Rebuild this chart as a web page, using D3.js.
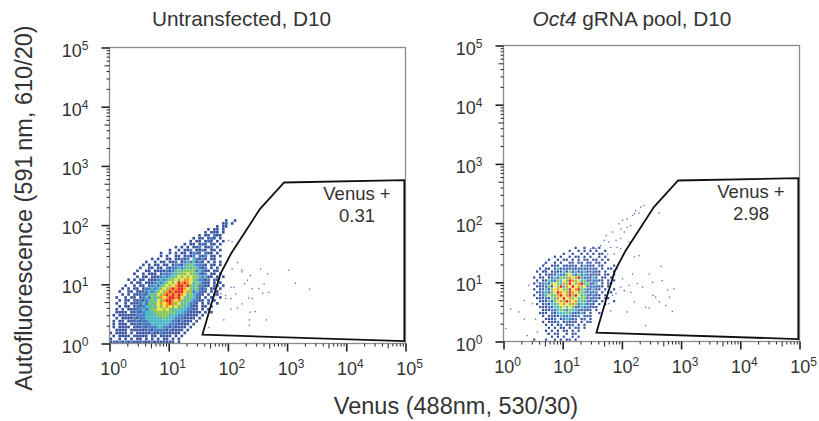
<!DOCTYPE html>
<html>
<head>
<meta charset="utf-8">
<script src="https://cdn.jsdelivr.net/npm/d3@7"></script>
<style>
    body { margin: 0; background: #fff; }
    svg { display: block; font-family: "Liberation Sans", Arial, sans-serif; }
</style>
</head>
<body>
<svg id="grafico" width="819" height="421"></svg>
<script>
// decades on both log axes
const decades = [0, 1, 2, 3, 4, 5];
const minorSteps = [2, 3, 4, 5, 6, 7, 8, 9];

// gate corners, log10 units (both panels share it)
const gateX = [1.57, 1.75, 1.88, 2.06, 2.54, 2.95, 4.98, 4.98];
const gateY = [0.15, 0.77, 1.19, 1.53, 2.27, 2.72, 2.76, 0.04];

// density, one string per 0.05 decade row, top row first
// 0 empty, 1 dark blue ... 7 red
const densityLeft = [
    "0000000000000000000000000000000000000001001",
    "000000000000000000000000000000000000001101",
    "0000000000000000000000000000000000001011",
    "0000000000000000000000000000000001011010",
    "0000000000000000000000000000000010111010",
    "0000000000000000000000000000001011021100",
    "0000000000000000000000000000101101210100",
    "0000000000000000000000000001011012101010",
    "0000000000000000000000000101101210110100",
    "0000000000000000000000101010112011201000",
    "0000000000000000000010010112011210110100",
    "0000000000000000010010101101221021101000",
    "0000000000000000010100110121202120110100",
    "0000000000000010100110112120321210110000",
    "0000000000001001011011201232312101010100",
    "0000000000010101101101221334322210110100",
    "0000000000100110110212232343432120101000",
    "0000000001001101111212343444423211011000",
    "0000000010010111012223344454432120110100",
    "0000000001011011123233454545443231101010",
    "0000001010110111232344545665432212011000",
    "0000000101101112323454576765343211010100",
    "0000010010110123234545677674342211011010",
    "0000101011012232345467677654342120110100",
    "0001001101112323454676777564232110101000",
    "0000101011121343546767676534321101011000",
    "0010010110123243465677675434321010100100",
    "0001011011212343546776564343221101010000",
    "0010010111232434565676453432210101001000",
    "0001011012123343545654544332110110100000",
    "0010101112232344554543433322110101000000",
    "0011110112123334444444333221111010100000",
    "0101111112223333444433322211110100000000",
    "0010111121223333334333222111101000000000",
    "0101101112122333333332212111010000000000",
    "0101110112122233333322211110100000000000",
    "0101111011121222332212111101000000000000",
    "0011110111111212222121111010000000000000",
    "1011110101111121121111110100000000000000",
    "0101111011111011011110101000000000000000",
    "1001010101101010101101010000000000000000",
    "1212121211121121111111010000000000000000"
];

const densityRight = [
    "0000000000000000000000001001001010000000",
    "0000000000000000000000100101010100100000",
    "0000000000000000000010010010101011000000",
    "0000000000000000010100101101010010100000",
    "0000000000000001001011010101101101010000",
    "0000000000000010010100110120110110100000",
    "0000000000000100111021212013111011000100",
    "0000000000001011013122121212112101011000",
    "0000000000010110121131423123112110100100",
    "0000000000001012113224532423121110110100",
    "0000000000101101232434654732213101101000",
    "0000000000010113224354764534212211010100",
    "0000000000101231454364754673421301011000",
    "0000000000011124154736575645122211010000",
    "0000000000101131456544756743213110100100",
    "0000000000011232457654765443121201011000",
    "0000000000101235346756747534212110100000",
    "0000000000011121436575645344121110110000",
    "0000000000001113245647656343212101000100",
    "0000000000010121334565464233121010100000",
    "0000000000001112133453542132211100000000",
    "0000000000000111223432433212110100000000",
    "0000000000001110213334321131010010000000",
    "0000000000000101211322311201110000000000",
    "0000000000000011120123212012010000000000",
    "0000000000000101112012111010110000000000",
    "0000000000000010101201120101000000000000",
    "0000000000000001010110101101000000000000",
    "0000000000000010101011010100000000000000",
    "0000000000000001011001011000000000000000",
    "0000000000000000101010010100000000000000",
    "0000000000100010010101101000000000000000"
];

// single events outside the dense cloud, log10 units
const sueltosLeftX = [2.07, 1.95, 2.0, 2.06, 2.15, 2.06, 2.22, 2.54, 3.02, 2.23, 2.66, 2.37, 2.32, 2.27, 2.6, 3.13, 2.4, 2.51, 3.37, 2.09, 2.04, 1.87, 1.95, 2.12, 2.68, 2.58, 2.34, 2.4, 1.95, 2.04, 2.23, 2.15, 2.04, 2.36, 2.45, 1.92, 2.35, 2.64, 2.35, 1.67, 2.33, 1.9];
const sueltosLeftY = [2.06, 2.03, 1.75, 1.73, 1.38, 1.27, 1.25, 1.27, 1.25, 1.22, 1.19, 1.16, 1.08, 1.02, 1.02, 1.03, 0.94, 0.94, 0.93, 0.96, 0.96, 0.85, 0.82, 0.85, 0.875, 0.86, 0.78, 0.77, 0.77, 0.77, 0.68, 0.61, 0.59, 0.54, 0.55, 0.41, 0.41, 0.41, 0.32, 0.28, 0.01, 0.01];

const sueltosRightX = [2.36, 2.31, 2.22, 2.28, 2.2, 2.62, 2.17, 2.08, 2.0, 1.94, 1.97, 2.08, 2.14, 2.03, 1.83, 1.72, 1.69, 1.77, 1.89, 1.97, 1.8, 1.91, 2.11, 1.97, 1.86, 1.75, 1.55, 1.46, 1.35, 1.63,
    2.28, 2.2, 1.91, 1.86, 2.65, 2.45, 2.17, 2.0, 2.34, 2.87, 2.76, 2.67, 2.51, 2.25, 2.11, 1.97, 2.03, 1.89, 1.83, 2.14, 2.51, 2.56, 2.79, 2.2, 2.39, 2.45, 2.62, 2.73, 2.84, 1.77, 1.8, 2.08, 2.39,
    0.03, 0.11, 0.34, 0.39, 0.25, 0.34, 0.42, 0.56, 0.68, 0.68, 0.73, 0.48, 0.56, 0.73, 0.53, 0.56];
const sueltosRightY = [2.31, 2.28, 2.22, 2.18, 2.17, 2.18, 2.14, 2.08, 2.06, 2.0, 1.91, 1.94, 1.97, 1.86, 1.86, 1.8, 1.72, 1.69, 1.72, 1.75, 1.6, 1.6, 1.69, 1.58, 1.49, 1.49, 1.58, 1.58, 1.6, 1.63,
    1.46, 1.44, 1.24, 1.21, 1.28, 1.15, 1.15, 1.07, 0.93, 0.9, 0.88, 1.04, 1.01, 0.99, 0.96, 0.93, 0.87, 0.82, 0.79, 0.84, 0.79, 0.76, 0.76, 0.68, 0.59, 0.58, 0.68, 0.62, 0.52, 0.65, 0.53, 0.51, 0.28,
    0.23, 0.56, 0.39, 0.11, 0.51, 0.7, 0.96, 1.01, 1.32, 1.21, 1.24, 0.65, 0.17, 0.14, 0.39, 0.65];

const colores = ["#ffffff", "#35519f", "#4a7cc2", "#4db8c6", "#86c654", "#efe447", "#f4941f", "#e62a20"];

const svg = d3.select("#grafico");

const defs = svg.append("defs");
defs.append("filter").attr("id", "suave")
    .attr("x", 0).attr("y", 0).attr("width", 1).attr("height", 1)
    .append("feGaussianBlur").attr("stdDeviation", 0.4);

const texto = "#333333";
const pasoCelda = 0.05;

function dibujarPanel(p) {

    const x = d3.scaleLog().domain([1, 1e5]).range([p.left, p.left + 296]);
    const y = d3.scaleLog().domain([1, 1e5]).range([p.bottom, p.bottom - 296]);
    const pot = e => Math.pow(10, e);

    const g = svg.append("g");

    // density cells
    const celdas = [];
    p.density.forEach((fila, i) => {
        const r = p.density.length - 1 - i;
        fila.split("").forEach((ch, c) => {
            if (ch !== "0") celdas.push({ c: c, r: r, nivel: +ch });
        });
    });

    // the sparsest level is single events, so it gets a smaller dot
    const hueco = d => p.hueco + (d.nivel === 1 ? 0.35 : 0);

    const nube = g.append("g").attr("filter", "url(#suave)");

    nube.selectAll("rect")
        .data(celdas)
        .enter()
        .append("rect")
        .attr("x", d => x(pot(d.c * pasoCelda)))
        .attr("y", d => y(pot((d.r + 1) * pasoCelda)))
        .attr("width", d => x(pot((d.c + 1) * pasoCelda)) - x(pot(d.c * pasoCelda)) - hueco(d))
        .attr("height", d => y(pot(d.r * pasoCelda)) - y(pot((d.r + 1) * pasoCelda)) - hueco(d))
        .attr("fill", d => colores[d.nivel]);

    g.append("g").selectAll("rect")
        .data(p.sueltosX)
        .enter()
        .append("rect")
        .attr("x", d => x(pot(d)))
        .attr("y", (d, i) => y(pot(p.sueltosY[i])))
        .attr("width", 1.3)
        .attr("height", 1.3)
        .attr("fill", "#4d6fbd");

    // frame
    g.append("rect")
        .attr("x", x(1)).attr("y", y(1e5))
        .attr("width", x(1e5) - x(1)).attr("height", y(1) - y(1e5))
        .attr("fill", "none")
        .attr("stroke", "#8c8c8c")
        .attr("stroke-width", 1.3);

    // gate
    const linea = d3.line()
        .x((d, i) => x(pot(gateX[i])))
        .y((d, i) => y(pot(gateY[i])))
        .curve(d3.curveLinearClosed);

    g.append("path")
        .attr("d", linea(gateX))
        .attr("fill", "none")
        .attr("stroke", "#111")
        .attr("stroke-width", 1.8);

    // axes
    const mayores = decades.map(pot);
    const menores = [];
    decades.slice(0, -1).forEach(e => minorSteps.forEach(m => menores.push(m * pot(e))));

    [
        { vals: menores.filter(v => String(v).charAt(0) !== "5"), size: 3, w: 1 },
        { vals: menores.filter(v => String(v).charAt(0) === "5"), size: 5, w: 1 },
        { vals: mayores, size: 8, w: 1.6 }
    ].forEach(t => {
        const abajo = g.append("g")
            .attr("transform", `translate(0,${y(1)})`)
            .call(d3.axisBottom(x).tickValues(t.vals).tickSize(t.size).tickFormat(""));
        const izq = g.append("g")
            .attr("transform", `translate(${x(1)},0)`)
            .call(d3.axisLeft(y).tickValues(t.vals).tickSize(t.size).tickFormat(""));
        [abajo, izq].forEach(a => {
            a.select(".domain").remove();
            a.selectAll("line").attr("stroke", "#222").attr("stroke-width", t.w);
        });
    });

    // tick labels
    decades.forEach(e => {
        const tx = g.append("text")
            .attr("x", x(pot(e)) + 4)
            .attr("y", y(1) + 31)
            .attr("text-anchor", "middle")
            .attr("fill", texto)
            .style("font-size", "18px");
        tx.append("tspan").text("10");
        tx.append("tspan").attr("dy", -7).style("font-size", "12px").text(e);

        const ty = g.append("text")
            .attr("x", x(1) - 21)
            .attr("y", y(pot(e)) + 9)
            .attr("text-anchor", "end")
            .attr("fill", texto)
            .style("font-size", "18px");
        ty.append("tspan").text("10");
        ty.append("tspan").attr("dy", -7).style("font-size", "12px").text(e);
    });

    // gate label
    g.append("text")
        .attr("x", p.left + 247.5)
        .attr("y", p.bottom - 143.5)
        .attr("text-anchor", "middle")
        .attr("fill", texto)
        .style("font-size", "18.5px")
        .text("Venus +");

    g.append("text")
        .attr("x", p.left + 247.5)
        .attr("y", p.bottom - 122)
        .attr("text-anchor", "middle")
        .attr("fill", texto)
        .style("font-size", "18.5px")
        .text(p.porcentaje);
}

dibujarPanel({
    left: 109.5, bottom: 343.5, hueco: 0,
    density: densityLeft, sueltosX: sueltosLeftX, sueltosY: sueltosLeftY,
    porcentaje: "0.31"
});

dibujarPanel({
    left: 503.5, bottom: 341.5, hueco: 0.4,
    density: densityRight, sueltosX: sueltosRightX, sueltosY: sueltosRightY,
    porcentaje: "2.98"
});

// titles
svg.append("text")
    .attr("x", 241.5)
    .attr("y", 26)
    .attr("text-anchor", "middle")
    .attr("fill", texto)
    .style("font-size", "20.8px")
    .text("Untransfected, D10");

const titulo = svg.append("text")
    .attr("x", 632)
    .attr("y", 26)
    .attr("text-anchor", "middle")
    .attr("fill", texto)
    .style("font-size", "20.8px");
titulo.append("tspan").style("font-style", "italic").text("Oct4");
titulo.append("tspan").text(" gRNA pool, D10");

// shared axis titles
svg.append("text")
    .attr("x", 456)
    .attr("y", 414)
    .attr("text-anchor", "middle")
    .attr("fill", texto)
    .style("font-size", "23.5px")
    .text("Venus (488nm, 530/30)");

svg.append("text")
    .attr("transform", "rotate(-90)")
    .attr("x", -208)
    .attr("y", 32)
    .attr("text-anchor", "middle")
    .attr("fill", texto)
    .style("font-size", "23.5px")
    .text("Autofluorescence (591\u2009nm, 610/20)");
</script>
</body>
</html>
